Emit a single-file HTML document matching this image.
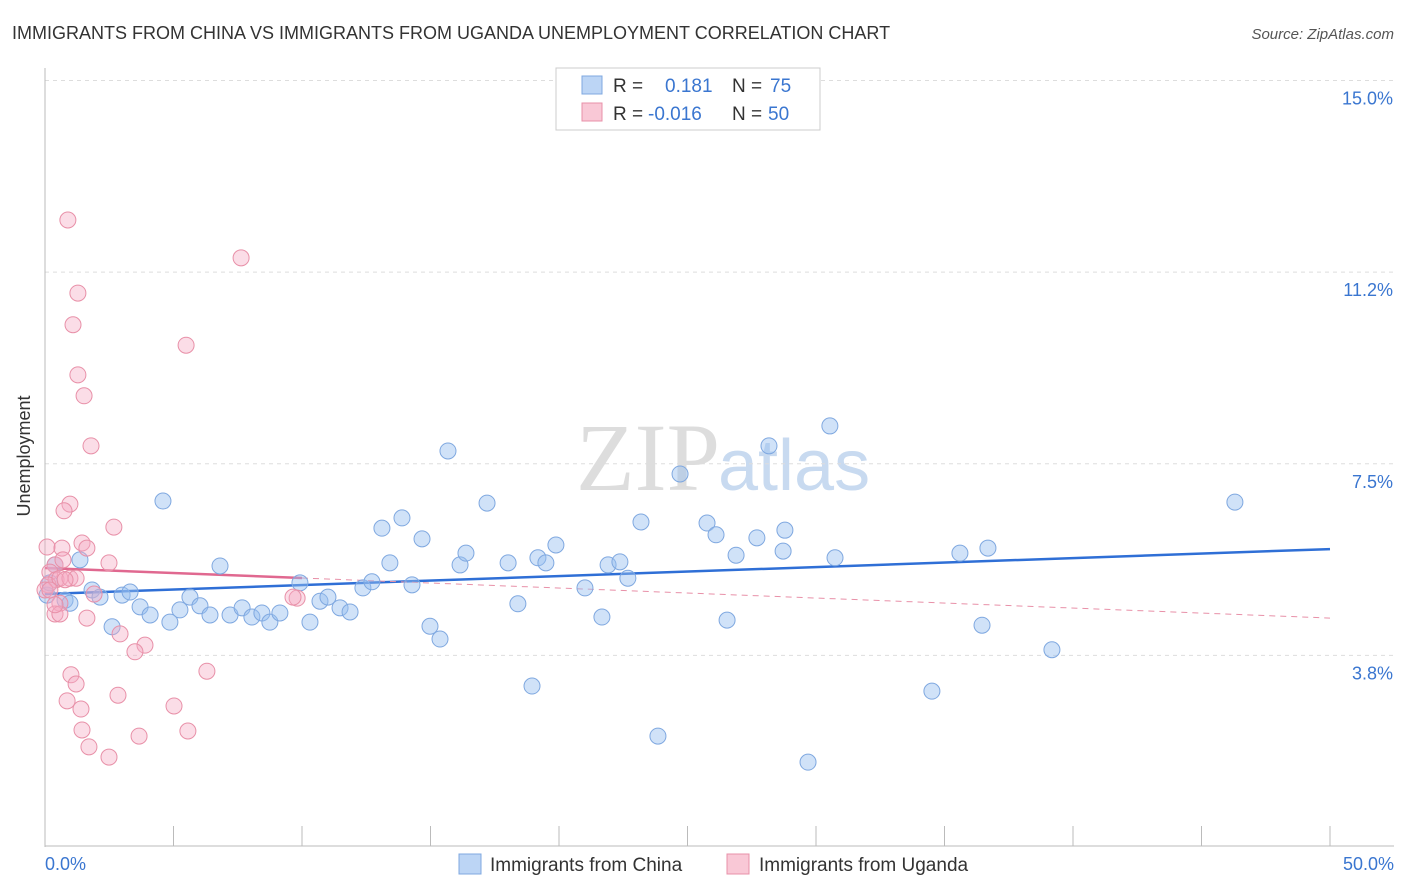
<!DOCTYPE html>
<html><head><meta charset="utf-8"><style>
body{margin:0;background:#fff;font-family:"Liberation Sans",sans-serif;}
svg{display:block}
</style></head><body>
<svg id="chart" width="1406" height="892">
<text x="12" y="39" font-size="18" fill="#333">IMMIGRANTS FROM CHINA VS IMMIGRANTS FROM UGANDA UNEMPLOYMENT CORRELATION CHART</text>
<text x="1394" y="39" font-size="15" fill="#555" font-style="italic" text-anchor="end">Source: ZipAtlas.com</text>
<text x="30" y="456" font-size="18" fill="#333" text-anchor="middle" transform="rotate(-90 30 456)">Unemployment</text>
<text x="720" y="490" font-size="96" fill="#ddd" text-anchor="end" font-family="Liberation Serif">ZIP</text>
<text x="718" y="490" font-size="72" fill="#c8daf0">atlas</text>
<g id="grid"></g><g id="axes"></g><g id="trend"></g><g id="pts"></g>
<g>
<rect x="556" y="68" width="264" height="62" fill="#fff" stroke="#ccc"/>
<rect x="582" y="76" width="20" height="18" fill="#bcd5f5" stroke="#7fa8e0"/>
<text x="613" y="92" font-size="19" fill="#333">R =</text><text x="665" y="92" font-size="19" fill="#3a76d0">0.181</text>
<text x="732" y="92" font-size="19" fill="#333">N =</text><text x="770" y="92" font-size="19" fill="#3a76d0">75</text>
<rect x="582" y="103" width="20" height="18" fill="#f9c8d6" stroke="#e890a8"/>
<text x="613" y="120" font-size="19" fill="#333">R =</text><text x="648" y="120" font-size="19" fill="#3a76d0">-0.016</text>
<text x="732" y="120" font-size="19" fill="#333">N =</text><text x="768" y="120" font-size="19" fill="#3a76d0">50</text>
</g>
<g><rect x="459" y="854" width="22" height="20" fill="#bcd5f5" stroke="#7fa8e0"/><text x="490" y="871" font-size="19" fill="#333">Immigrants from China</text></g>
<g><rect x="727" y="854" width="22" height="20" fill="#f9c8d6" stroke="#e890a8"/><text x="759" y="871" font-size="19" fill="#333">Immigrants from Uganda</text></g>
</svg>
<script>
const chinaX=[0.39,0.78,0.97,1.36,1.83,2.14,2.61,3.00,3.31,3.70,4.09,4.59,4.86,5.25,5.64,6.03,6.42,6.81,7.20,7.67,8.05,8.44,8.75,9.14,9.92,10.31,10.70,11.01,11.48,11.87,12.37,12.72,13.11,13.42,13.89,14.28,14.67,14.98,15.37,15.68,16.15,16.38,17.20,18.02,18.40,18.95,19.18,19.49,19.88,21.01,21.67,21.91,22.37,22.68,23.19,23.85,24.71,25.76,26.11,26.54,26.89,27.70,28.17,28.72,28.79,29.69,30.54,30.74,34.51,35.60,36.46,36.69,39.18,46.30,0.08,0.19];
const chinaY=[5.52,4.83,4.77,5.62,5.03,4.89,4.31,4.93,4.99,4.70,4.54,6.77,4.40,4.64,4.89,4.72,4.54,5.50,4.54,4.68,4.50,4.58,4.40,4.58,5.17,4.40,4.81,4.89,4.68,4.60,5.07,5.19,6.24,5.56,6.44,5.13,6.03,4.32,4.07,7.75,5.52,5.75,6.73,5.56,4.76,3.15,5.66,5.56,5.91,5.07,4.50,5.52,5.58,5.26,6.36,2.17,7.30,6.34,6.11,4.44,5.71,6.05,7.85,5.79,6.20,1.66,8.24,5.66,3.05,5.75,4.34,5.85,3.86,6.75,4.93,5.17];
const ugX=[0.89,7.63,1.28,1.09,5.49,1.28,1.52,1.79,0.97,0.74,2.68,1.44,0.08,0.66,1.63,2.49,0.39,0.70,0.19,0.43,0.12,0.58,0.97,1.21,0,0.58,0.39,0.58,1.63,2.92,3.89,3.50,1.91,9.81,9.65,6.30,1.01,1.21,2.84,0.86,1.40,5.02,1.44,5.56,3.66,1.71,2.49,0.39,0.19,0.78];
const ugY=[12.27,11.53,10.84,10.22,9.82,9.24,8.83,7.85,6.71,6.58,6.26,5.95,5.87,5.85,5.85,5.56,5.52,5.62,5.38,5.23,5.13,5.26,5.26,5.26,5.03,4.77,4.56,4.56,4.48,4.17,3.95,3.82,4.95,4.87,4.89,3.44,3.37,3.19,2.97,2.86,2.70,2.76,2.29,2.27,2.17,1.96,1.76,4.74,5.03,5.23];
const yTicks=[15.0,11.25,7.5,3.75];
const yTickLabels=["15.0%","11.2%","7.5%","3.8%"];
const chinaTrend=[4.95,5.83];
const ugTrend=[5.46,4.48];
const NS="http://www.w3.org/2000/svg";
const X=v=>45+v*25.7, Y=v=>847-v*51.1;
function mk(tag,attrs,parent){const e=document.createElementNS(NS,tag);for(const k in attrs)e.setAttribute(k,attrs[k]);document.getElementById(parent).appendChild(e);return e;}
yTicks.forEach((t,i)=>{
 const g=mk('line',{x1:45,x2:1394,y1:Y(t),y2:Y(t),stroke:'#ddd','stroke-dasharray':'4,4'},'grid');
 
 
 const l=mk('text',{x:1393,y:Y(t)+24,'font-size':18,fill:'#3a76d0','text-anchor':'end'},'grid');l.textContent=yTickLabels[i];
 
 
});
let a=mk('line',{x1:45,x2:45,y1:68,y2:847,stroke:'#bbb'},'axes');


a=mk('line',{x1:45,x2:1394,y1:846,y2:846,stroke:'#bbb'},'axes');


for(let i=0;i<=10;i++){const t=mk('line',{x1:X(i*5),x2:X(i*5),y1:826,y2:846,stroke:'#bbb'},'axes');
 
 }
let t1=mk('text',{x:45,y:870,'font-size':18,fill:'#3a76d0'},'axes');t1.textContent='0.0%';


let t2=mk('text',{x:1394,y:870,'font-size':18,fill:'#3a76d0','text-anchor':'end'},'axes');t2.textContent='50.0%';


let ln=mk('line',{x1:X(0),y1:Y(chinaTrend[0]),x2:X(50),y2:Y(chinaTrend[1]),stroke:'#2f6fd6','stroke-width':2.5},'trend');


const um=(ugTrend[1]-ugTrend[0])/50;
ln=mk('line',{x1:X(0),y1:Y(ugTrend[0]),x2:X(10),y2:Y(ugTrend[0]+um*10),stroke:'#e06890','stroke-width':2.5},'trend');


ln=mk('line',{x1:X(10),y1:Y(ugTrend[0]+um*10),x2:X(50),y2:Y(ugTrend[1]),stroke:'#e890a8','stroke-width':1,'stroke-dasharray':'6,5'},'trend');


chinaX.forEach((x,i)=>{const c=mk('circle',{cx:X(x),cy:Y(chinaY[i]),r:8,fill:'rgba(150,190,240,0.45)',stroke:'#7fa8e0','stroke-width':1},'pts');
 
 });
ugX.forEach((x,i)=>{const c=mk('circle',{cx:X(x),cy:Y(ugY[i]),r:8,fill:'rgba(245,170,195,0.4)',stroke:'#e890a8','stroke-width':1},'pts');
 
 });
</script>
</body></html>
